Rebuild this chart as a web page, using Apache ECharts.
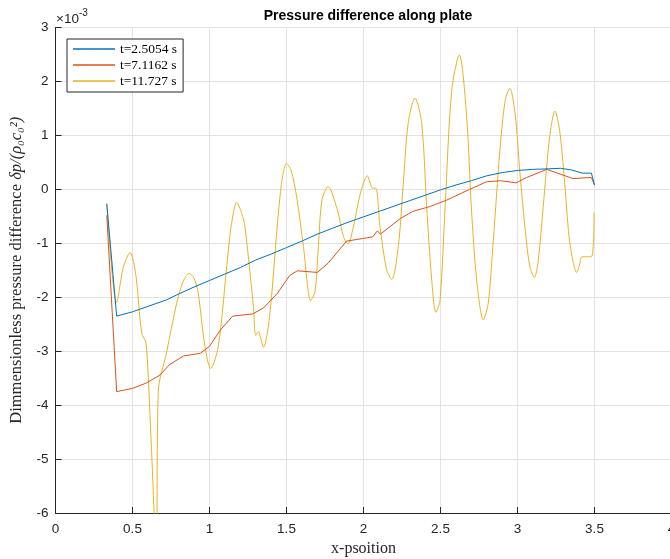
<!DOCTYPE html>
<html>
<head>
<meta charset="utf-8">
<script src="https://cdn.jsdelivr.net/npm/echarts@6/dist/echarts.min.js"></script>
<style>
  html, body { margin: 0; padding: 0; background: #ffffff; }
  #chart { width: 670px; height: 559px; }
</style>
</head>
<body>
<div id="chart"></div>
<script>
// Pressure difference along the plate, values in units of 1e-3
const seriesNames = ['t=2.5054 s', 't=7.1162 s', 't=11.727 s'];
const seriesColors = ['#0072BD', '#D95319', '#EDB120'];
const xTicks = [0, 0.5, 1, 1.5, 2, 2.5, 3, 3.5, 4];
const yTicks = [-6, -5, -4, -3, -2, -1, 0, 1, 2, 3];

const dpEarly = [
  [0.333, -0.27], [0.397, -2.35], [0.5, -2.27], [0.6, -2.17], [0.72, -2.05],
  [0.8, -1.94], [0.9, -1.81], [1.0, -1.69], [1.1, -1.57], [1.2, -1.45],
  [1.3, -1.31], [1.4, -1.2], [1.5, -1.08], [1.6, -0.96], [1.7, -0.83],
  [1.8, -0.72], [1.9, -0.61], [2.0, -0.51], [2.1, -0.41], [2.2, -0.31],
  [2.3, -0.21], [2.4, -0.11], [2.5, -0.01], [2.6, 0.08], [2.7, 0.16],
  [2.8, 0.25], [2.9, 0.31], [3.0, 0.35], [3.1, 0.37], [3.2, 0.38],
  [3.28, 0.39], [3.35, 0.36], [3.42, 0.3], [3.48, 0.3], [3.5, 0.08]
];

const dpMid = [
  [0.333, -0.48], [0.397, -3.75], [0.5, -3.69], [0.59, -3.59], [0.68, -3.44],
  [0.74, -3.25], [0.83, -3.09], [0.94, -3.04], [1.0, -2.91], [1.07, -2.61],
  [1.15, -2.35], [1.28, -2.31], [1.35, -2.2], [1.44, -1.93], [1.52, -1.6],
  [1.57, -1.51], [1.7, -1.54], [1.77, -1.37], [1.89, -0.96], [2.0, -0.91],
  [2.06, -0.88], [2.09, -0.77], [2.11, -0.83], [2.24, -0.54], [2.32, -0.41],
  [2.43, -0.32], [2.54, -0.2], [2.69, 0.0], [2.8, 0.14], [2.89, 0.16],
  [2.99, 0.12], [3.06, 0.22], [3.19, 0.37], [3.28, 0.28], [3.36, 0.2],
  [3.48, 0.22], [3.5, 0.08]
];

const dpLate = [
  [0.333, -0.26], [0.397, -2.1], [0.44, -1.45], [0.484, -1.17], [0.52, -1.55],
  [0.56, -2.67], [0.588, -2.85], [0.62, -4.6], [0.655, -6.8], [0.668, -3.72],
  [0.72, -3.04], [0.787, -2.11], [0.83, -1.7], [0.867, -1.56], [0.9, -1.65],
  [0.927, -1.93], [0.97, -2.91], [1.008, -3.32], [1.057, -2.91], [1.11, -1.49],
  [1.14, -0.7], [1.177, -0.24], [1.21, -0.45], [1.23, -0.69], [1.285, -2.17],
  [1.3, -2.71], [1.317, -2.64], [1.33, -2.73], [1.35, -2.93], [1.39, -2.36],
  [1.46, -0.07], [1.5, 0.48], [1.53, 0.35], [1.566, -0.14], [1.61, -1.06],
  [1.657, -2.06], [1.685, -1.9], [1.707, -1.06], [1.73, -0.2], [1.77, 0.05],
  [1.83, -0.38], [1.87, -0.88], [1.9, -1.01], [1.93, -0.75], [1.98, -0.07],
  [2.025, 0.25], [2.06, 0.02], [2.08, 0.02], [2.107, -0.69], [2.15, -1.49],
  [2.183, -1.67], [2.226, -1.06], [2.26, 0.17], [2.29, 1.22], [2.334, 1.69],
  [2.378, 1.22], [2.41, -0.32], [2.443, -1.68], [2.47, -2.28], [2.497, -2.05],
  [2.53, -0.32], [2.573, 1.84], [2.622, 2.49], [2.67, 1.34], [2.7, -0.32],
  [2.735, -1.68], [2.778, -2.42], [2.81, -2.11], [2.843, -0.94], [2.886, 0.73],
  [2.92, 1.65], [2.95, 1.87], [2.984, 1.41], [3.016, 0.3], [3.05, -0.75],
  [3.08, -1.43], [3.11, -1.63], [3.135, -1.31], [3.167, -0.32], [3.21, 1.0],
  [3.243, 1.45], [3.276, 1.04], [3.31, -0.01], [3.34, -1.0], [3.385, -1.54],
  [3.4, -1.43], [3.42, -1.25], [3.48, -1.25], [3.497, -0.43]
];

const seriesData = [dpEarly, dpMid, dpLate];

const chart = echarts.init(document.getElementById('chart'), null, { renderer: 'canvas' });

const axisColor = '#262626';
const gridColor = '#e3e3e3';
const sansFont = '"Liberation Sans", Arial, sans-serif';
const serifFont = '"Liberation Serif", "DejaVu Serif", serif';

chart.setOption({
  animation: false,
  backgroundColor: '#ffffff',
  title: {
    text: 'Pressure difference along plate',
    left: 363,
    textAlign: 'center',
    top: 4,
    textStyle: { fontFamily: sansFont, fontWeight: 'bold', fontSize: 14, color: '#000000' }
  },
  grid: {
    left: 55.5, top: 27.5, width: 616, height: 485.5,
    containLabel: false,
    outerBoundsMode: 'none'
  },
  legend: {
    orient: 'vertical',
    left: 67,
    top: 39,
    data: seriesNames,
    icon: 'rect',
    itemWidth: 42,
    itemHeight: 1.3,
    itemGap: 2,
    padding: [3, 6, 4, 6],
    borderColor: axisColor,
    borderWidth: 1,
    backgroundColor: '#ffffff',
    textStyle: { fontFamily: serifFont, fontSize: 13.5, color: '#000000', lineHeight: 14 }
  },
  xAxis: {
    type: 'value',
    min: 0, max: 4, interval: 0.5,
    name: 'x-psoition',
    nameLocation: 'middle',
    nameGap: 28,
    nameTextStyle: { fontFamily: serifFont, fontSize: 16, color: '#262626' },
    axisLine: { show: true, onZero: false, lineStyle: { color: axisColor, width: 1 } },
    axisTick: { show: true, inside: true, length: 6, lineStyle: { color: axisColor } },
    axisLabel: {
      margin: 9, fontFamily: sansFont, fontSize: 13.5, color: axisColor,
      formatter: v => xTicks.includes(v) ? String(v) : ''
    },
    splitLine: { show: true, lineStyle: { color: gridColor, width: 1 } }
  },
  yAxis: {
    type: 'value',
    min: -6, max: 3, interval: 1,
    name: '{n|Dimmensionless pressure difference }{m|δp/(ρ₀c₀²)}',
    nameLocation: 'middle',
    nameRotate: 90,
    nameGap: 23,
    nameTextStyle: {
      rich: {
        n: { fontFamily: serifFont, fontSize: 16.5, color: '#262626' },
        m: { fontFamily: serifFont, fontSize: 16.5, fontStyle: 'italic', color: '#262626' }
      }
    },
    axisLine: { show: true, onZero: false, lineStyle: { color: axisColor, width: 1 } },
    axisTick: { show: true, inside: true, length: 6, lineStyle: { color: axisColor } },
    axisLabel: {
      margin: 7, fontFamily: sansFont, fontSize: 13.5, color: axisColor,
      formatter: v => yTicks.includes(v) ? String(v) : ''
    },
    splitLine: { show: true, lineStyle: { color: gridColor, width: 1 } }
  },
  graphic: [{
    type: 'text',
    left: 56,
    top: 8,
    style: {
      text: '{a|×10}{b|-3}',
      rich: {
        a: { fontFamily: sansFont, fontSize: 13.5, fill: axisColor, verticalAlign: 'bottom' },
        b: { fontFamily: sansFont, fontSize: 10, fill: axisColor, verticalAlign: 'top', padding: [0, 0, 8, 0] }
      }
    }
  }],
  series: seriesNames.map((name, i) => ({
    name,
    type: 'line',
    data: seriesData[i],
    symbol: 'none',
    smooth: i === 2 ? 0.3 : false,
    clip: true,
    lineStyle: { color: seriesColors[i], width: 1 },
    itemStyle: { color: seriesColors[i] },
    z: 3 - i
  }))
});
</script>
</body>
</html>
